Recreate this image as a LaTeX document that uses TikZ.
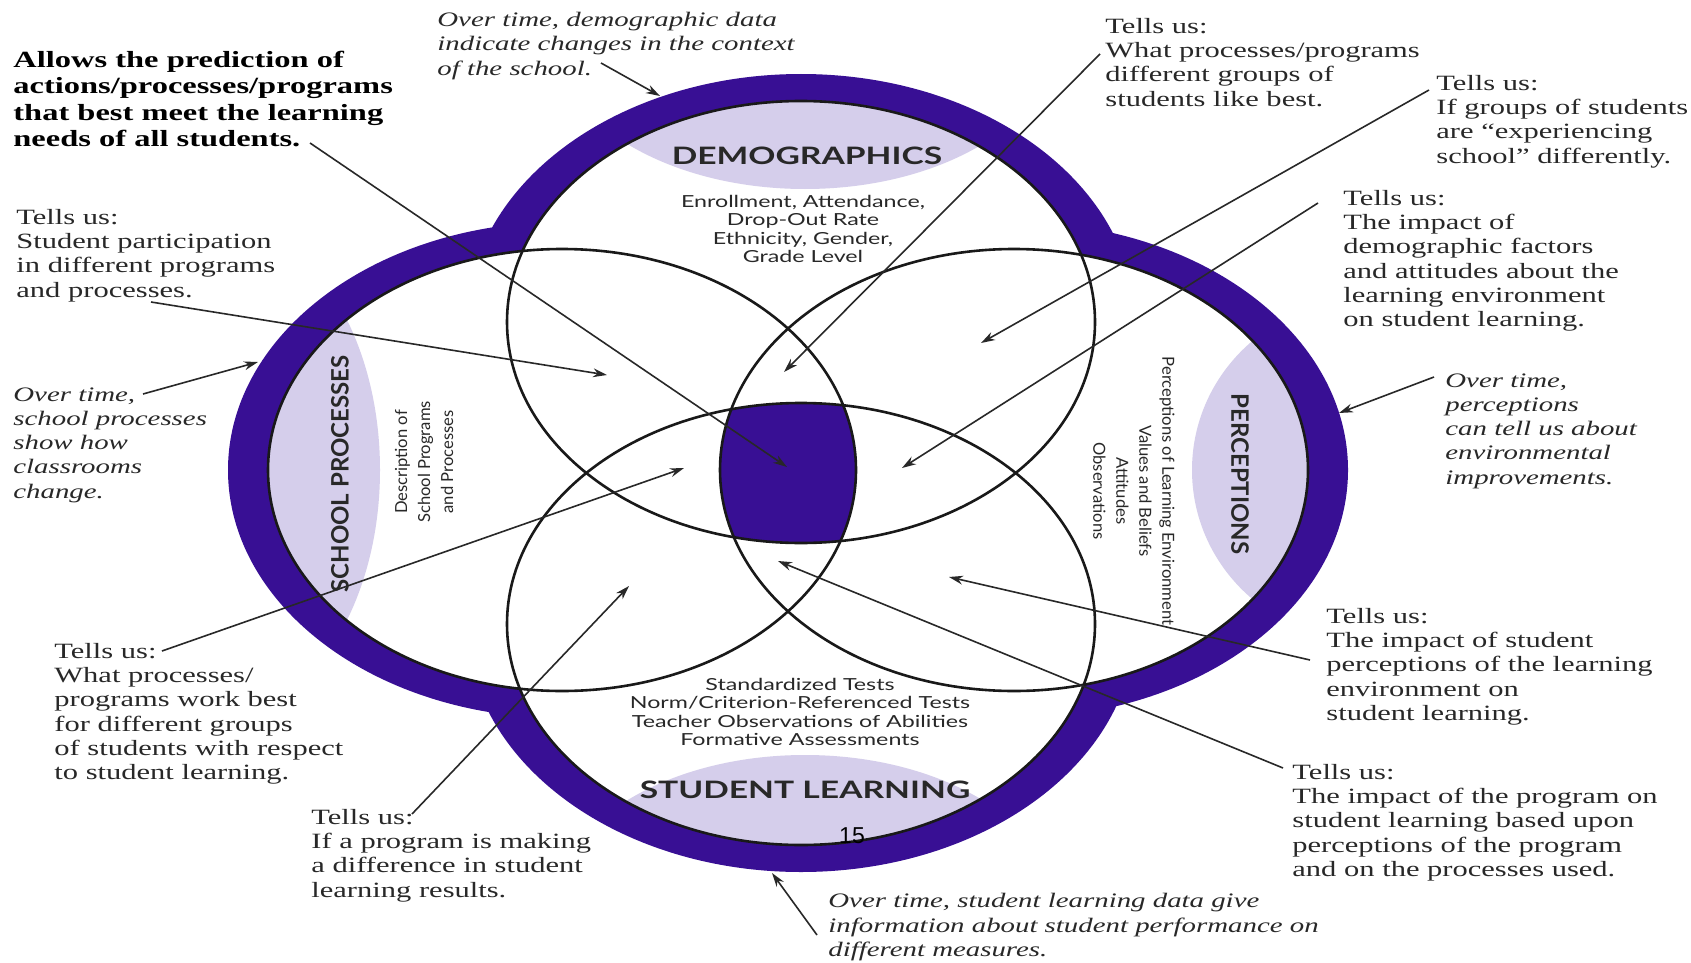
\documentclass[tikz,border=0pt]{standalone}
\usepackage{fontspec}
\setmainfont{Liberation Serif}[FakeStretch=1.4]
\newfontfamily\labfont{Lato}[FakeStretch=1.4]
\newfontfamily\labfontv{Lato}
\newfontfamily\pgfont{Liberation Sans}
\usetikzlibrary{arrows.meta}
\definecolor{band}{RGB}{56,15,148}
\definecolor{lav}{RGB}{213,206,235}
\definecolor{ink}{RGB}{40,40,40}
\begin{document}
\begin{tikzpicture}[x=0.5pt,y=-0.5pt,
  note/.style={anchor=north west, inner sep=0pt, align=left, text=ink, font=\fontsize{10.9}{12.1}\selectfont},
  inote/.style={note, font=\fontsize{10.3}{12.15}\selectfont\itshape},
  bnote/.style={note, text=black, font=\fontsize{11.6}{13.1}\selectfont\bfseries},
  ptr/.style={line width=0.8pt, draw=ink, -{Stealth[length=7pt,width=4.4pt]}},
  ring/.style={line width=1.3pt, draw=black!90},
  lab/.style={inner sep=0pt, text=ink, font=\labfont\bfseries\fontsize{12}{14}\selectfont},
  labv/.style={inner sep=0pt, text=ink, font=\labfontv\bfseries\fontsize{12}{14}\selectfont},
  sub/.style={inner sep=0pt, align=center, text=ink, font=\labfont\fontsize{8.3}{9.15}\selectfont},
  subv/.style={inner sep=0pt, align=center, text=ink, font=\labfontv\fontsize{8.3}{11.5}\selectfont},
]
\useasboundingbox (0,0) rectangle (1691,963);
\fill[white] (0,0) rectangle (1691,963);

% centres of the four shapes (px)
\coordinate (cT) at (801,322);
\coordinate (cB) at (801,624);
\coordinate (cL) at (562,470);
\coordinate (cR) at (1014,470);

% outer band
\foreach \c in {cT,cB,cL,cR}
  \fill[band] (\c) ellipse [x radius=167pt, y radius=124pt];
% inner white
\foreach \c in {cT,cB,cL,cR}
  \fill[white] (\c) ellipse [x radius=147pt, y radius=110.5pt];
% lavender caps
\begin{scope}
  \clip (cT) ellipse [x radius=147pt, y radius=110.5pt];
  \fill[lav] (805,30) ellipse [x radius=127.5pt, y radius=79.5pt];
\end{scope}
\begin{scope}
  \clip (cB) ellipse [x radius=147pt, y radius=110.5pt];
  \fill[lav] (805,915) ellipse [x radius=127.5pt, y radius=80pt];
\end{scope}
\begin{scope}
  \clip (cL) ellipse [x radius=147pt, y radius=110.5pt];
  \fill[lav] (215,470) ellipse [x radius=82.5pt, y radius=125pt];
\end{scope}
\begin{scope}
  \clip (cR) ellipse [x radius=147pt, y radius=110.5pt];
  \fill[lav] (1365,470) ellipse [x radius=86.5pt, y radius=85pt];
\end{scope}
% centre
\begin{scope}
  \clip (cT) ellipse [x radius=147pt, y radius=110.5pt];
  \clip (cB) ellipse [x radius=147pt, y radius=110.5pt];
  \clip (cL) ellipse [x radius=147pt, y radius=110.5pt];
  \fill[band] (cR) ellipse [x radius=147pt, y radius=110.5pt];
\end{scope}
% outlines
\foreach \c in {cT,cB,cL,cR}
  \draw[ring] (\c) ellipse [x radius=147pt, y radius=110.5pt];

% labels inside
\node[lab] (demo) at (807,156) {DEMOGRAPHICS};
\node[sub] (demosub) at (803,229) {Enrollment, Attendance,\\Drop-Out Rate\\Ethnicity, Gender,\\Grade Level};
\node[labv, rotate=90] (sp) at (340,474) {SCHOOL PROCESSES};
\node[subv, rotate=90] (spsub) at (424,462) {Description of\\School Programs\\and Processes};
\node[labv, rotate=-90] (perc) at (1240,474) {PERCEPTIONS};
\node[subv, rotate=-90] (percsub) at (1134,491) {Perceptions of Learning Environment\\Values and Beliefs\\Attitudes\\Observations};
\node[sub] (slsub) at (800,712) {Standardized Tests\\Norm/Criterion-Referenced Tests\\Teacher Observations of Abilities\\Formative Assessments};
\node[lab] (sl) at (805,790) {STUDENT LEARNING};
\node[inner sep=0pt, font=\pgfont\fontsize{11.5}{12}\selectfont] (pg) at (852,836) {15};

% annotations
\node[inote] (t1) at (437,12) {Over time, demographic data\\indicate changes in the context\\of the school.};
\node[bnote] (t2) at (13,51) {Allows the prediction of\\actions/processes/programs\\that best meet the learning\\needs of all students.};
\node[note] (t3) at (16,209) {Tells us:\\Student participation\\in different programs\\and processes.};
\node[inote] (t4) at (13,387) {Over time,\\school processes\\show how\\classrooms\\change.};
\node[note] (t5) at (54,643) {Tells us:\\What processes/\\programs work best\\for different groups\\of students with respect\\to student learning.};
\node[note] (t6) at (311,809) {Tells us:\\If a program is making\\a difference in student\\learning results.};
\node[inote] (t7) at (828,893) {Over time, student learning data give\\information about student performance on\\different measures.};
\node[note] (t8) at (1105,18) {Tells us:\\What processes/programs\\different groups of\\students like best.};
\node[note] (t9) at (1436,75) {Tells us:\\If groups of students\\are ``experiencing\\school'' differently.};
\node[note] (t10) at (1343,190) {Tells us:\\The impact of\\demographic factors\\and attitudes about the\\learning environment\\on student learning.};
\node[inote] (t11) at (1445,373) {Over time,\\perceptions\\can tell us about\\environmental\\improvements.};
\node[note] (t12) at (1326,608) {Tells us:\\The impact of student\\perceptions of the learning\\environment on\\student learning.};
\node[note] (t13) at (1292,764) {Tells us:\\The impact of the program on\\student learning based upon\\perceptions of the program\\and on the processes used.};

% arrow end points
\coordinate (s1) at (601,63);   \coordinate (e1) at (660,96);
\coordinate (s2) at (310,143);  \coordinate (e2) at (787,467);
\coordinate (s3) at (151,302);  \coordinate (e3) at (607,375);
\coordinate (s4) at (143,394);  \coordinate (e4) at (258,362);
\coordinate (s5) at (162,651);  \coordinate (e5) at (684,468);
\coordinate (s6) at (412,814);  \coordinate (e6) at (629,586);
\coordinate (s7) at (817,935);  \coordinate (e7) at (772,873);
\coordinate (s8) at (1100,54);  \coordinate (e8) at (784,372);
\coordinate (s9) at (1429,90);  \coordinate (e9) at (981,343);
\coordinate (s10) at (1318,203); \coordinate (e10) at (902,468);
\coordinate (s11) at (1434,377); \coordinate (e11) at (1339,413);
\coordinate (s12) at (1310,660); \coordinate (e12) at (949,577);
\coordinate (s13) at (1283,768); \coordinate (e13) at (778,561);
\foreach \i in {1,...,13} \draw[ptr] (s\i) -- (e\i);
\end{tikzpicture}
\end{document}
